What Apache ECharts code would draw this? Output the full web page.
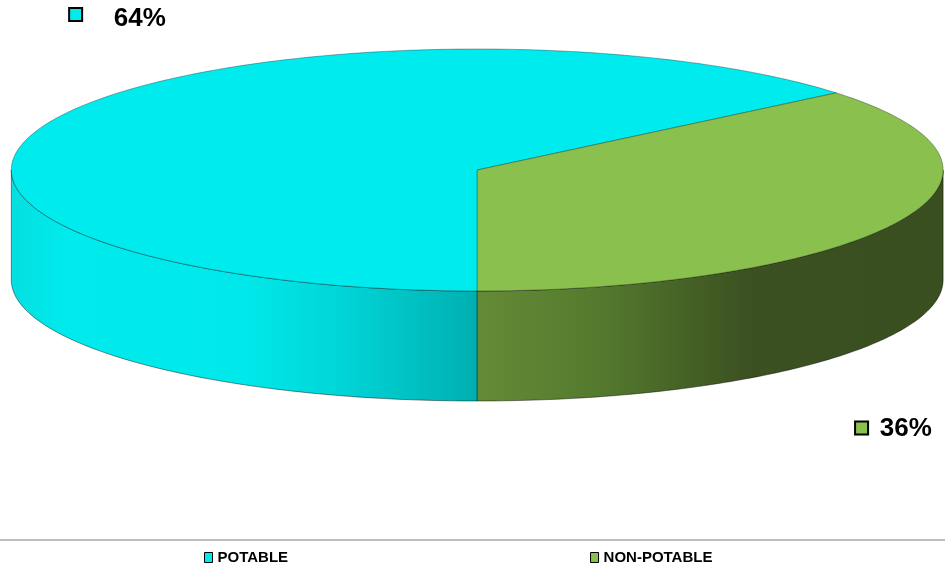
<!DOCTYPE html>
<html><head><meta charset="utf-8">
<script src="https://cdn.jsdelivr.net/npm/echarts@6/dist/echarts.min.js"></script>
<style>html,body{margin:0;padding:0;background:#fff}#c{width:945px;height:575px}</style>
</head><body><div id="c"></div>
<script>
const categories = ['POTABLE', 'NON-POTABLE'];
const values = [64, 36];
const topColors = ['#00EBEE', '#8AC04D'];
const startAngle = 180; // first slice angle, degrees clockwise from 12 o'clock

const sideStops = [
  [{offset:0,color:'#04DFE1'},{offset:0.06,color:'#00EBED'},{offset:0.25,color:'#00E8EA'},{offset:0.35,color:'#00D6D8'},{offset:0.5,color:'#00AFB1'},{offset:1,color:'#00AFB1'}],
  [{offset:0,color:'#658A37'},{offset:0.5,color:'#658A37'},{offset:0.63,color:'#547A2E'},{offset:0.79,color:'#3C5121'},{offset:1,color:'#3A4F20'}]
];

function layout(api){
  const W = api.getWidth();
  return {cx: W*0.505, cy: 170, rx: W*0.493, ry: 121, depth: 110};
}
function labelLayout(i, L){
  if (i === 0) return {sq:[L.cx - L.rx*0.862, L.cy - L.ry - 34.5], tx:[L.cx - L.rx*0.78, L.cy - L.ry - 30]};
  return {sq:[L.cx + L.rx*0.825, L.cy + L.ry + L.depth + 27], tx:[L.cx + L.rx*0.864, L.cy + L.ry + L.depth + 28]};
}

function makeRender(i){
  return function(params, api){
    const L = layout(api);
    const total = values.reduce((a,b)=>a+b, 0);
    let acc = 0; for (let k=0;k<i;k++) acc += values[k];
    const v = api.value(0);
    const a0 = startAngle + acc/total*360, a1 = a0 + v/total*360;
    const pt = (deg, dy) => { const r = deg*Math.PI/180; return [L.cx + L.rx*Math.sin(r), L.cy - L.ry*Math.cos(r) + (dy||0)]; };
    const arc = (s, e, dy) => { const n = Math.max(2, Math.ceil(Math.abs(e-s))); const out=[]; for (let j=0;j<=n;j++) out.push(pt(s+(e-s)*j/n, dy)); return out; };
    const children = [];
    [[90,270],[450,630]].forEach(([v0,v1]) => {
      const s = Math.max(a0, v0), e = Math.min(a1, v1);
      if (e > s) {
        children.push({type:'polygon', shape:{points: arc(s,e,0).concat(arc(e,s,L.depth))},
          style:{fill:{type:'linear', x:L.cx-L.rx, y:0, x2:L.cx+L.rx, y2:0, global:true, colorStops: sideStops[i]},
                 stroke:'rgba(0,0,0,0.55)', lineWidth:0.8}});
      }
    });
    children.push({type:'polygon', shape:{points: [[L.cx, L.cy]].concat(arc(a0,a1,0))},
      style:{fill: topColors[i], stroke:'rgba(0,0,0,0.45)', lineWidth:0.7}});
    const lb = labelLayout(i, L);
    children.push({type:'rect', shape:{x: lb.sq[0]-6.5, y: lb.sq[1]-6.5, width:13, height:13},
      style:{fill: topColors[i], stroke:'#000', lineWidth:2}});
    children.push({type:'text', x: lb.tx[0], y: lb.tx[1],
      style:{text: Math.round(v/total*100) + '%', fill:'#000', font:'bold 26px Arial, "Liberation Sans", sans-serif', textAlign:'left', textVerticalAlign:'middle'}});
    return {type:'group', children};
  };
}

const chart = echarts.init(document.getElementById('c'));
chart.setOption({
  animation: false,
  backgroundColor: '#fff',
  legend: {
    data: categories, left: 199, top: 545, itemGap: 302, itemWidth: 8, itemHeight: 10, icon: 'rect', selectedMode: false,
    itemStyle: {borderColor:'#000', borderWidth:1},
    textStyle: {fontFamily:'Arial, "Liberation Sans", sans-serif', fontWeight:'bold', fontSize:15, color:'#000'}
  },
  graphic: [{type:'line', shape:{x1:0, y1:540, x2:945, y2:540}, style:{stroke:'#A8A8A8', lineWidth:1.5}}],
  series: categories.map((name, i) => ({
    type: 'custom', name: name, coordinateSystem: 'none',
    itemStyle: {color: topColors[i]},
    data: [values[i]],
    renderItem: makeRender(i)
  }))
});
</script></body></html>
